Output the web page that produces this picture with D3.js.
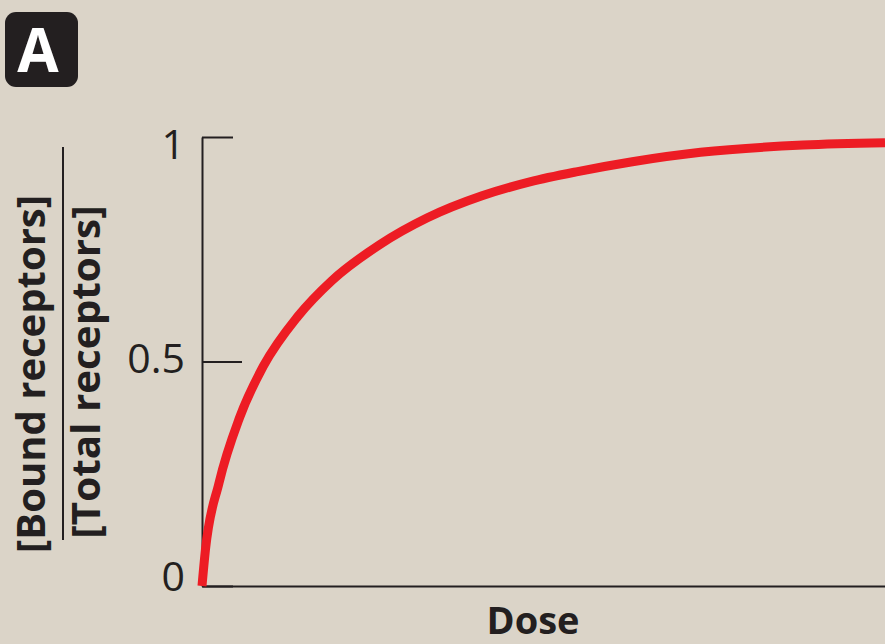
<!DOCTYPE html>
<html>
<head>
<meta charset="utf-8">
<script src="https://cdn.jsdelivr.net/npm/d3@7"></script>
<style>
  html, body { margin: 0; padding: 0; background: #dbd4c8; }
  svg { display: block; }
</style>
</head>
<body>
<div id="chart"></div>
<script>
    "use strict";

    // dose in arbitrary units
    var dose = [0, 0.05, 0.25, 0.55, 0.9, 1.4, 1.9, 2.6, 3.3, 4.1, 4.8, 5.5, 6.3, 7.3, 8.8, 10];
    // fraction of receptors bound
    var bound = [0, 0.08, 0.23, 0.375, 0.49, 0.6, 0.68, 0.76, 0.82, 0.869, 0.9, 0.923, 0.945, 0.966, 0.982, 0.987];
    var yTicks = [0, 0.5, 1];
    var yTickLabels = ["0", "0.5", "1"];

    var width = 885,
        height = 644;
    var ink = "#231f20";

    var svg = d3.select("#chart").append("svg")
        .attr("width", width)
        .attr("height", height);

    svg.append("rect")
        .attr("width", width)
        .attr("height", height)
        .attr("fill", "#dbd4c8");

    var x = d3.scaleLinear().domain([0, 10]).range([202, 885]);
    var y = d3.scaleLinear().domain([0, 1]).range([586, 137]);

    // panel letter
    svg.append("rect")
        .attr("x", 5).attr("y", 12)
        .attr("width", 73).attr("height", 75)
        .attr("rx", 11)
        .attr("fill", ink);
    svg.append("text")
        .attr("x", 38).attr("y", 72)
        .attr("text-anchor", "middle")
        .style("font-family", "'Open Sans', sans-serif")
        .style("font-weight", "bold")
        .style("font-size", "60px")
        .attr("fill", "#fff")
        .text("A");

    // y axis, ticks pointing inward
    var yAxis = d3.axisLeft(y)
        .tickValues(yTicks)
        .tickFormat(function (d, i) { return yTickLabels[i]; })
        .tickSizeInner(-31)
        .tickSizeOuter(0)
        .tickPadding(17);

    var gy = svg.append("g")
        .attr("transform", "translate(" + x(0) + ",0)")
        .call(yAxis);
    gy.select(".domain").attr("stroke", ink).attr("stroke-width", 2);
    gy.selectAll(".tick line")
        .attr("stroke", ink)
        .attr("stroke-width", 2)
        .attr("x2", function (d) { return d === 0.5 ? 40 : 31; });
    // label nudges so they sit like the original
    var nudge = { 0: -10, 0.5: -3, 1: 7 };
    gy.selectAll(".tick text")
        .attr("fill", ink)
        .attr("dy", "0.35em")
        .attr("y", function (d) { return nudge[d]; })
        .style("font-family", "'Open Sans', sans-serif")
        .style("font-size", "41px");

    // x axis, no ticks
    var gx = svg.append("g")
        .attr("transform", "translate(0," + y(0) + ")")
        .call(d3.axisBottom(x).tickValues([]).tickSizeOuter(0));
    gx.select(".domain").attr("stroke", ink).attr("stroke-width", 2);

    // axis titles
    svg.append("text")
        .attr("transform", "translate(45,374) rotate(-90)")
        .attr("text-anchor", "middle")
        .attr("textLength", 358)
        .attr("lengthAdjust", "spacingAndGlyphs")
        .style("font-family", "'Open Sans', sans-serif")
        .style("font-weight", "bold")
        .style("font-size", "39px")
        .attr("fill", ink)
        .text("[Bound receptors]");
    svg.append("line")
        .attr("x1", 63).attr("x2", 63)
        .attr("y1", 147).attr("y2", 540)
        .attr("stroke", ink)
        .attr("stroke-width", 2);
    svg.append("text")
        .attr("transform", "translate(100,372) rotate(-90)")
        .attr("text-anchor", "middle")
        .attr("textLength", 333)
        .attr("lengthAdjust", "spacingAndGlyphs")
        .style("font-family", "'Open Sans', sans-serif")
        .style("font-weight", "bold")
        .style("font-size", "39px")
        .attr("fill", ink)
        .text("[Total receptors]");

    svg.append("text")
        .attr("x", 533).attr("y", 634)
        .attr("text-anchor", "middle")
        .attr("textLength", 93)
        .attr("lengthAdjust", "spacingAndGlyphs")
        .style("font-family", "'Open Sans', sans-serif")
        .style("font-weight", "bold")
        .style("font-size", "38px")
        .attr("fill", ink)
        .text("Dose");

    // binding curve
    var line = d3.line()
        .x(function (d, i) { return x(dose[i]); })
        .y(function (d) { return y(d); })
        .curve(d3.curveMonotoneX);

    svg.append("path")
        .datum(bound)
        .attr("d", line)
        .attr("fill", "none")
        .attr("stroke", "#ed1c24")
        .attr("stroke-width", 9);
</script>
</body>
</html>
